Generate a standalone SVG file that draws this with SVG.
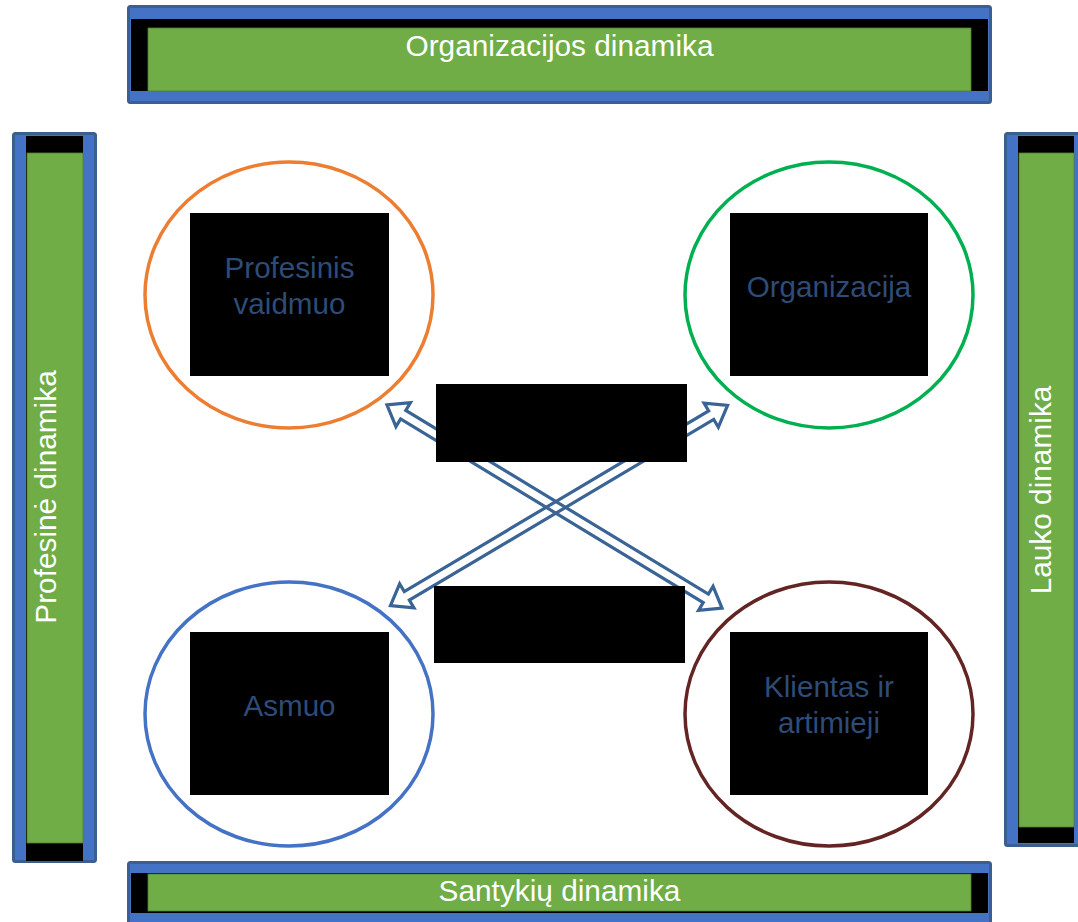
<svg xmlns="http://www.w3.org/2000/svg" width="1078" height="922" viewBox="0 0 1078 922">
<style>
.outer{fill:#4472C4;stroke:#3B5F8E;stroke-width:3}
.blk{fill:#000}
.grn{fill:#70AD47;stroke:#4F7F31;stroke-width:0.8}
.bt{font-family:"Liberation Sans",Arial,sans-serif;font-size:29.8px;fill:#FFFFFF;text-anchor:middle}
.nt{font-family:"Liberation Sans",Arial,sans-serif;font-size:29.6px;fill:#2E4C78;text-anchor:middle}
.ring{fill:none;stroke-width:3.5}
.arr{fill:none;stroke:#3A6496;stroke-width:3.2;stroke-linejoin:miter}
</style>
<defs>
<polygon id="dblarrow" points="-196,0 -177,-14 -177,-5 177,-5 177,-14 196,0 177,14 177,5 -177,5 -177,14"/>
</defs>
<rect width="1078" height="922" fill="#FFFFFF"/>

<g id="bar-top">
<rect class="outer" x="128.5" y="6.5" width="862" height="96" rx="2"/>
<rect class="blk" x="131" y="19" width="857" height="72"/>
<rect class="grn" x="148" y="28" width="823" height="63"/>
<text class="bt" x="559.5" y="56">Organizacijos dinamika</text>
</g>

<g id="bar-bottom">
<rect class="outer" x="128.5" y="862.5" width="862" height="80" rx="2"/>
<rect class="blk" x="131" y="873" width="857" height="40"/>
<rect class="grn" x="148" y="874" width="823" height="37"/>
<text class="bt" x="559.5" y="901">Santykių dinamika</text>
</g>

<g id="bar-left">
<rect class="outer" x="13.5" y="133.5" width="82" height="728" rx="2"/>
<rect class="blk" x="26" y="136" width="57" height="725"/>
<rect class="grn" x="27" y="153" width="56" height="690"/>
<text class="bt" transform="translate(56,497) rotate(-90)">Profesinė dinamika</text>
</g>

<g id="bar-right">
<rect class="outer" x="1005.5" y="133.5" width="82" height="712" rx="2"/>
<rect class="blk" x="1018" y="136" width="56" height="707"/>
<rect class="grn" x="1019" y="153" width="55" height="674"/>
<text class="bt" transform="translate(1051,490) rotate(-90)">Lauko dinamika</text>
</g>

<g id="node-profesinis-vaidmuo">
<ellipse class="ring" cx="289" cy="295" rx="144" ry="133" stroke="#ED7D31"/>
</g>
<g id="node-organizacija">
<ellipse class="ring" cx="829" cy="295" rx="144" ry="133" stroke="#00B050"/>
</g>
<g id="node-asmuo">
<ellipse class="ring" cx="289" cy="714" rx="144" ry="132" stroke="#4472C4"/>
</g>
<g id="node-klientas">
<ellipse class="ring" cx="829" cy="714" rx="144" ry="132" stroke="#632523"/>
</g>

<g id="connectors">
<use href="#dblarrow" class="arr" transform="translate(554.5,506.5) rotate(31.26)"/>
<use href="#dblarrow" class="arr" transform="translate(559,505.5) rotate(-30.69)"/>
</g>

<g id="label-boxes">
<rect class="blk" x="190" y="213" width="199" height="163"/>
<text class="nt" x="289.5" y="278">Profesinis</text>
<text class="nt" x="289.5" y="314">vaidmuo</text>
<rect class="blk" x="730" y="213" width="198" height="163"/>
<text class="nt" x="829" y="297">Organizacija</text>
<rect class="blk" x="190" y="632" width="199" height="163"/>
<text class="nt" x="289.5" y="716">Asmuo</text>
<rect class="blk" x="730" y="632" width="198" height="163"/>
<text class="nt" x="829" y="697">Klientas ir</text>
<text class="nt" x="829" y="733">artimieji</text>
<rect class="blk" x="436" y="384" width="251" height="78"/>
<rect class="blk" x="434" y="586" width="251" height="77"/>
</g>
</svg>
